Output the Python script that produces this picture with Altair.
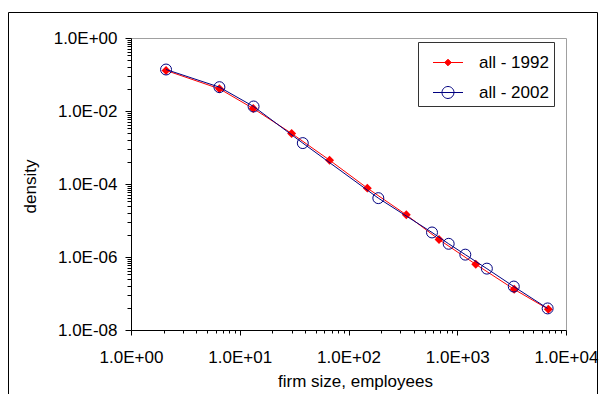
import json
import altair as alt
import pandas as pd

# ---- data ----
series_names = ["all - 1992", "all - 2002"]
x_1992 = [2.1, 6.5, 13.3, 30, 67, 149, 340, 680, 1480, 3340, 6880]
y_1992 = [0.129, 0.0407, 0.0117, 0.00243, 4.5e-4, 7.7e-5, 1.43e-5, 3.0e-6, 6.3e-7, 1.30e-7, 3.7e-8]
x_2002 = [2.1, 6.5, 13.4, 38, 188, 586, 834, 1186, 1872, 3311, 6780]
y_2002 = [0.137, 0.045, 0.0133, 0.00132, 4.1e-5, 4.7e-6, 2.3e-6, 1.16e-6, 4.8e-7, 1.55e-7, 3.9e-8]

x_major = [1, 10, 100, 1000, 10000]
x_tick_labels = ["1.0E+00", "1.0E+01", "1.0E+02", "1.0E+03", "1.0E+04"]
x_minor_digits = [2, 3, 4, 5, 6, 7, 8, 9]
y_major = [1e-8, 1e-6, 1e-4, 1e-2, 1]
y_tick_labels = ["1.0E-08", "1.0E-06", "1.0E-04", "1.0E-02", "1.0E+00"]
y_minor_fractions = [0.87, 0.76, 0.68, 0.59, 0.51, 0.42, 0.34, 0.25, 0.16, 0.09, 0.04]

x_title = "firm size, employees"
y_title = "density"

# ---- build table ----
df = pd.DataFrame({
    "series": [series_names[0]] * len(x_1992) + [series_names[1]] * len(x_2002),
    "x": x_1992 + x_2002,
    "y": y_1992 + y_2002,
})

x_values = x_major + [d * m for m in x_major[:-1] for d in x_minor_digits]
y_values = y_major + [f * m for m in y_major[1:] for f in y_minor_fractions]


def label_expr(vals, labels):
    v = json.dumps(vals)
    lab = json.dumps(labels)
    return f"indexof({v}, datum.value) >= 0 ? {lab}[indexof({v}, datum.value)] : ''"


def tick_size(vals, major, minor):
    v = json.dumps(vals)
    return {"condition": {"test": f"indexof({v}, datum.value) >= 0", "value": major}, "value": minor}


FONT = "Liberation Sans"

x_axis = alt.Axis(
    values=x_values, labelExpr=label_expr(x_major, x_tick_labels),
    tickSize=tick_size(x_major, 5, 3), labelPadding=14, labelOverlap=False, labelFlush=False,
    title=x_title, titleX=224, titleY=56, titleBaseline="alphabetic", titleAlign="center",
)
y_axis = alt.Axis(
    values=y_values, labelExpr=label_expr(y_major, y_tick_labels),
    tickSize=tick_size(y_major, 6, 4), labelPadding=8, labelOverlap=False, labelFlush=False,
    title=y_title, titleX=-96, titleY=148, titleBaseline="alphabetic", titleAlign="center", titleAngle=270,
)
x_scale = alt.Scale(type="log", domain=[1, 10000], nice=False)
y_scale = alt.Scale(type="log", domain=[1e-8, 1], nice=False)

base = alt.Chart(df).encode(
    x=alt.X("x:Q", scale=x_scale, axis=x_axis),
    y=alt.Y("y:Q", scale=y_scale, axis=y_axis),
)
red = base.transform_filter(alt.datum.series == series_names[0])
blue = base.transform_filter(alt.datum.series == series_names[1])

red_line = red.mark_line(color="#FF0000", strokeWidth=1)
red_pts = red.mark_point(shape="diamond", filled=True, color="#FF0000", size=80, opacity=1)
blue_line = blue.mark_line(color="#000080", strokeWidth=1)
blue_pts = blue.mark_point(shape="circle", filled=False, color="#000080", size=120, strokeWidth=1, opacity=1)

red_symbol = "M-1,0L1,0M-0.22,0L0,-0.22L0.22,0L0,0.22Z"
blue_symbol = "M-1,0L1,0M0.4,0A0.4,0.4,0,1,1,-0.4,0A0.4,0.4,0,1,1,0.4,0"

legend = alt.Legend(
    title=None, orient="none", legendX=287, legendY=4,
    symbolSize=900, symbolStrokeWidth=1, symbolOpacity=1,
    symbolOffset=9.5, labelOffset=15.5, padding=5, rowPadding=6,
    labelFont=FONT, labelFontSize=17, labelColor="black",
    labelExpr="datum.label + '   '",
    strokeColor="#333333", fillColor="white",
)
legend_layer = base.mark_point(opacity=0, filled=True, size=900).encode(
    shape=alt.Shape("series:N", scale=alt.Scale(domain=series_names, range=[red_symbol, blue_symbol]), legend=legend),
    stroke=alt.Stroke("series:N", scale=alt.Scale(domain=series_names, range=["#FF0000", "#000080"]), legend=legend),
    fill=alt.Fill("series:N", scale=alt.Scale(domain=series_names, range=["#FF0000", "transparent"]), legend=legend),
)

frame = alt.Chart(pd.DataFrame({"k": [0]})).mark_rect(
    fill="transparent", stroke="black", strokeWidth=1
).encode(
    x=alt.value(-122.5), x2=alt.value(466.5), y=alt.value(-25.5), y2=alt.value(380),
)

chart = alt.layer(frame, red_line, red_pts, blue_line, blue_pts, legend_layer).properties(
    width=435, height=292,
    padding={"left": 131, "top": 38, "right": 34, "bottom": 64},
    autosize=alt.AutoSizeParams(type="none"),
    background="white",
).configure_view(
    stroke="#a0a0a0", strokeWidth=1,
).configure_axis(
    grid=False, domainColor="black", tickColor="black", domainWidth=1, tickWidth=1,
    labelFont=FONT, labelFontSize=17, labelColor="black",
    titleFont=FONT, titleFontSize=17, titleFontWeight="normal", titleColor="black",
)

chart.save("out.html", embed_options={"renderer": "svg", "actions": False})
